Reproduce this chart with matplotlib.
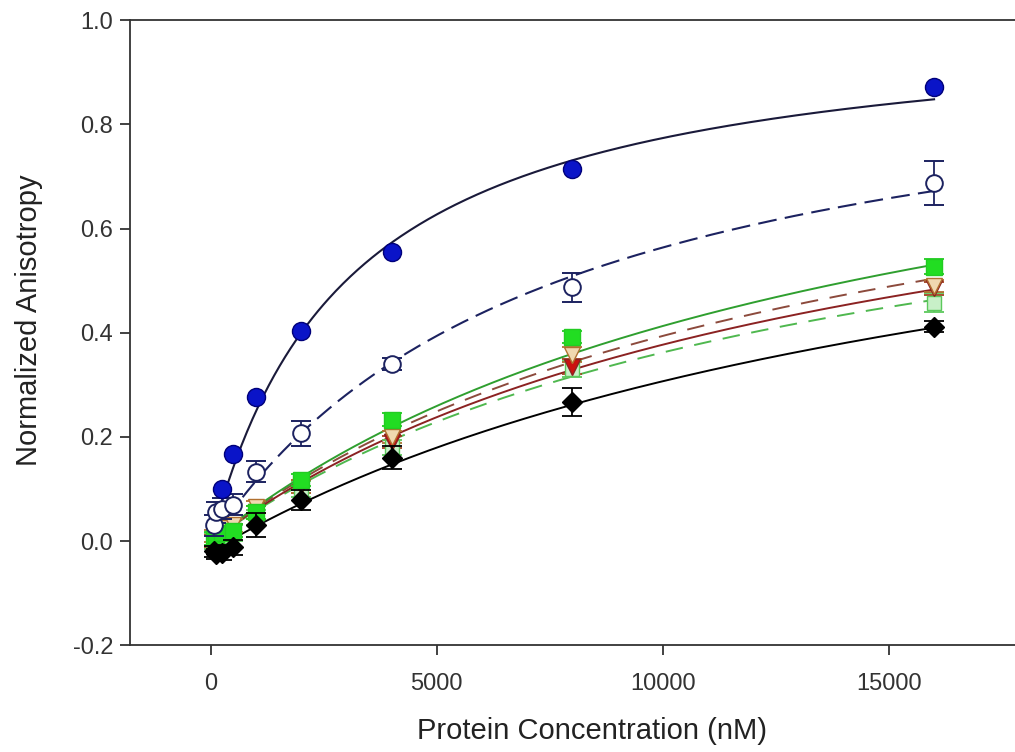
import numpy as np
import matplotlib
matplotlib.use("Agg")
import matplotlib.pyplot as plt

plt.rcParams['font.family'] = ['Liberation Sans', 'DejaVu Sans']

# concentrations (nM)
conc = [62.5, 125, 250, 500, 1000, 2000, 4000, 8000, 16000]
conc_blue = [250, 500, 1000, 2000, 4000, 8000, 16000]

# measured anisotropy
blue_filled = [0.100, 0.168, 0.277, 0.403, 0.556, 0.715, 0.871]
blue_filled_err = [0.004, 0.004, 0.004, 0.004, 0.004, 0.004, 0.004]
blue_open = [0.030, 0.055, 0.062, 0.070, 0.133, 0.207, 0.340, 0.487, 0.688]
blue_open_err = [0.02, 0.02, 0.02, 0.02, 0.02, 0.024, 0.012, 0.028, 0.042]
green_filled = [0.005, 0.010, 0.015, 0.020, 0.055, 0.117, 0.233, 0.392, 0.527]
green_filled_err = [0.012, 0.012, 0.012, 0.012, 0.012, 0.012, 0.012, 0.012, 0.015]
green_open = [0.000, 0.005, 0.010, 0.015, 0.045, 0.100, 0.180, 0.330, 0.458]
green_open_err = [0.015, 0.015, 0.015, 0.015, 0.015, 0.015, 0.015, 0.015, 0.018]
red_filled = [0.000, 0.010, 0.010, 0.020, 0.055, 0.105, 0.190, 0.335, 0.485]
red_filled_err = [0.012, 0.012, 0.012, 0.012, 0.012, 0.012, 0.012, 0.015, 0.012]
orange_open = [0.010, 0.020, 0.025, 0.030, 0.065, 0.105, 0.200, 0.358, 0.490]
orange_open_err = [0.012, 0.012, 0.012, 0.012, 0.012, 0.012, 0.012, 0.015, 0.012]
black = [-0.020, -0.025, -0.022, -0.012, 0.031, 0.079, 0.160, 0.267, 0.412]
black_err = [0.010, 0.010, 0.015, 0.015, 0.023, 0.020, 0.022, 0.026, 0.010]

# hyperbolic fit parameters: offset, Bmax, Kd
fit_blue = (0.0, 1.010, 3050)
fit_blue_open = (0.0, 0.990, 7560)
fit_green = (0.0, 1.011, 14480)
fit_orange = (0.0, 0.942, 13910)
fit_red = (0.0, 0.908, 14075)
fit_green_open = (0.0, 0.866, 13910)
fit_black = (-0.020, 0.905, 17680)


def binding(c, params):
    y0, bmax, kd = params
    return y0 + bmax * c / (kd + c)


fig = plt.figure(figsize=(10.15, 7.52), dpi=100)
ax = fig.add_axes([0.128, 0.142, 0.872, 0.831])

xs = np.linspace(0, 16000, 400)

# fitted curves
ax.plot(xs, binding(xs, fit_black), '-', color='black', lw=1.4, zorder=2)
ax.plot(xs, binding(xs, fit_green_open), '--', color='#4fb84f', lw=1.4,
        dashes=(9, 6), zorder=2)
ax.plot(xs, binding(xs, fit_red), '-', color='#8b2222', lw=1.4, zorder=2)
ax.plot(xs, binding(xs, fit_orange), '--', color='#8c4a3c', lw=1.4,
        dashes=(9, 6), zorder=2)
ax.plot(xs, binding(xs, fit_green), '-', color='#2f9f2f', lw=1.4, zorder=2)
ax.plot(xs, binding(xs, fit_blue_open), '--', color='#1c2260', lw=1.5,
        dashes=(9, 4), zorder=2)
ax.plot(xs, binding(xs, fit_blue), '-', color='#1a1a3a', lw=1.5, zorder=2)

# data points with error bars
ax.errorbar(conc, black, yerr=black_err, fmt='D', color='black', ms=10,
            mfc='black', mec='black', capsize=7, elinewidth=1.3, capthick=1.3,
            zorder=5)
ax.errorbar(conc, green_open, yerr=green_open_err, fmt='s', color='#5cc85c',
            ms=10, mfc='#c8f0c8', mec='#5cc85c', capsize=7, elinewidth=1.3,
            capthick=1.3, zorder=4)
ax.errorbar(conc, red_filled, yerr=red_filled_err, fmt='v', color='#a04020',
            ms=11, mfc='#cc1010', mec='#8b2222', capsize=7, elinewidth=1.3,
            capthick=1.3, zorder=4)
ax.errorbar(conc, orange_open, yerr=orange_open_err, fmt='v', color='#b07030',
            ms=11, mfc='#f0d8b0', mec='#b07030', capsize=7, elinewidth=1.3,
            capthick=1.3, zorder=4)
ax.errorbar(conc, green_filled, yerr=green_filled_err, fmt='s', color='#22cc22',
            ms=11, mfc='#22dd22', mec='#22cc22', capsize=7, elinewidth=1.3,
            capthick=1.3, zorder=4)
ax.errorbar(conc, blue_open, yerr=blue_open_err, fmt='o', color='#1c2260',
            ms=12, mfc='white', mec='#1c2260', mew=1.4, capsize=7,
            elinewidth=1.3, capthick=1.3, zorder=5)
ax.errorbar(conc_blue, blue_filled, yerr=blue_filled_err, fmt='o',
            color='#00007a', ms=13, mfc='#0a14c8', mec='#00007a',
            capsize=0, elinewidth=1.0, zorder=6)

ax.set_xlim(-1790, 17790)
ax.set_ylim(-0.2, 1.0)
ax.set_xticks([0, 5000, 10000, 15000])
ax.set_yticks([-0.2, 0.0, 0.2, 0.4, 0.6, 0.8, 1.0])
ax.set_yticklabels(['-0.2', '0.0', '0.2', '0.4', '0.6', '0.8', '1.0'])
ax.tick_params(direction='out', length=7, width=1.3, labelsize=17,
               colors='#333333', pad=5)
ax.tick_params(axis='x', pad=13)
for side in ['left', 'bottom', 'top']:
    ax.spines[side].set_linewidth(1.3)
    ax.spines[side].set_color('#333333')
ax.spines['right'].set_visible(False)

ax.set_xlabel('Protein Concentration (nM)', fontsize=21, color='#222222')
ax.set_ylabel('Normalized Anisotropy', fontsize=21, color='#222222')
ax.xaxis.set_label_coords(0.522, -0.115)
ax.yaxis.set_label_coords(-0.098, 0.52)

fig.savefig('out.png', dpi=100)
